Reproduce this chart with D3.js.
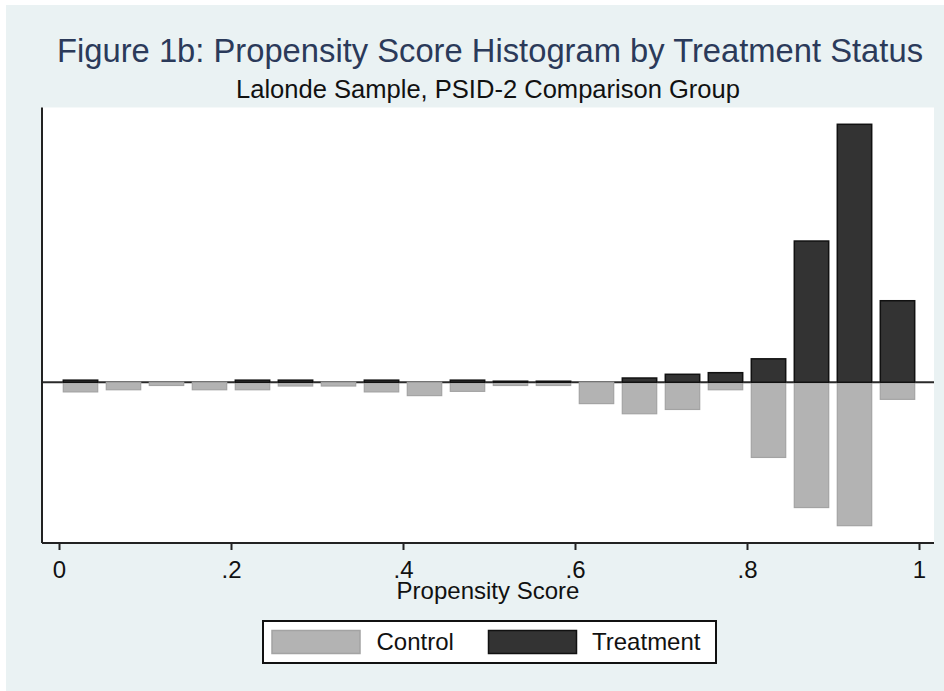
<!DOCTYPE html>
<html>
<head>
<meta charset="utf-8">
<script src="https://cdn.jsdelivr.net/npm/d3@7"></script>
<style>
  html, body { margin: 0; padding: 0; background: #eaf2f3; }
  svg { display: block; font-family: "Liberation Sans", Arial, sans-serif; }
</style>
</head>
<body>
<svg id="chart" width="944" height="691"></svg>
<script>
// ---- data (percent of group in each 0.05-wide propensity-score bin) ----
const binMids = [0.025, 0.075, 0.125, 0.175, 0.225, 0.275, 0.325, 0.375, 0.425, 0.475,
                 0.525, 0.575, 0.625, 0.675, 0.725, 0.775, 0.825, 0.875, 0.925, 0.975];
const treatment = [0.4, 0, 0, 0, 0.4, 0.4, 0, 0.4, 0, 0.4,
                   0.2, 0.2, 0, 0.8, 1.5, 1.8, 4.4, 26.5, 48.4, 15.3];
const control = [1.8, 1.4, 0.6, 1.4, 1.4, 0.7, 0.7, 1.8, 2.5, 1.7,
                 0.6, 0.6, 4.0, 5.9, 5.1, 1.4, 14.1, 23.5, 26.9, 3.2];
const xTicks = [0, 0.2, 0.4, 0.6, 0.8, 1];
const xTickLabels = ["0", ".2", ".4", ".6", ".8", "1"];
const seriesNames = ["Control", "Treatment"];
const titleText = "Figure 1b: Propensity Score Histogram by Treatment Status";
const subtitleText = "Lalonde Sample, PSID-2 Comparison Group";
const xTitle = "Propensity Score";
const binWidth = 0.04;

const svg = d3.select("#chart");
const W = 944, H = 691;
const plot = { left: 42, right: 934, top: 107.5, bottom: 543 };

svg.append("rect").attr("width", W).attr("height", H).attr("fill", "#eaf2f3");
// thin white margin seen on top/left edges
svg.append("rect").attr("x", 0).attr("y", 0).attr("width", W).attr("height", 5).attr("fill", "#ffffff");
svg.append("rect").attr("x", 0).attr("y", 0).attr("width", 6).attr("height", H).attr("fill", "#ffffff");

// plot region
svg.append("rect")
  .attr("x", plot.left).attr("y", plot.top)
  .attr("width", plot.right - plot.left).attr("height", plot.bottom - plot.top)
  .attr("fill", "#ffffff");

const x = d3.scaleLinear().domain([0, 1]).range([59, 919]);
const y = d3.scaleLinear().domain([-30.15, 51.55]).range([plot.bottom, plot.top]);

// zero line
svg.append("line")
  .attr("x1", plot.left).attr("x2", plot.right)
  .attr("y1", y(0)).attr("y2", y(0))
  .attr("stroke", "#2a2a2a").attr("stroke-width", 2);

// control bars (downward)
svg.append("g").selectAll("rect").data(binMids).join("rect")
  .attr("x", d => x(d - binWidth / 2))
  .attr("width", d => x(binWidth) - x(0))
  .attr("y", y(0))
  .attr("height", (d, i) => y(-control[i]) - y(0))
  .attr("fill", "#b3b3b3")
  .attr("stroke", "#a3a3a3")
  .attr("stroke-width", 1.2);

// treatment bars (upward)
svg.append("g").selectAll("rect").data(binMids.filter((d, i) => treatment[i] > 0)).join("rect")
  .attr("x", d => x(d - binWidth / 2))
  .attr("width", d => x(binWidth) - x(0))
  .attr("y", d => y(treatment[binMids.indexOf(d)]))
  .attr("height", d => y(0) - y(treatment[binMids.indexOf(d)]))
  .attr("fill", "#333333")
  .attr("stroke", "#111111")
  .attr("stroke-width", 1.5);

// y axis line
svg.append("line")
  .attr("x1", plot.left).attr("x2", plot.left)
  .attr("y1", plot.top).attr("y2", plot.bottom)
  .attr("stroke", "#222").attr("stroke-width", 2);

// x axis
const xAxis = d3.axisBottom(x)
  .tickValues(xTicks)
  .tickFormat((d, i) => xTickLabels[i])
  .tickSize(7).tickSizeOuter(0).tickPadding(11);
const gx = svg.append("g").attr("transform", `translate(0,${plot.bottom})`).call(xAxis);
gx.select(".domain").remove();
gx.selectAll(".tick line").attr("stroke", "#222").attr("stroke-width", 2);
gx.selectAll(".tick text")
  .attr("font-family", "'Liberation Sans', Arial, sans-serif")
  .attr("font-size", 24).attr("fill", "#111");
svg.append("line")
  .attr("x1", plot.left).attr("x2", plot.right)
  .attr("y1", plot.bottom).attr("y2", plot.bottom)
  .attr("stroke", "#222").attr("stroke-width", 2);

// axis title
svg.append("text").attr("x", 488).attr("y", 599)
  .attr("text-anchor", "middle").attr("font-size", 24).attr("fill", "#111")
  .text(xTitle);

// titles
svg.append("text").attr("x", 490).attr("y", 61.5)
  .attr("text-anchor", "middle").attr("font-size", 32.5).attr("fill", "#2b3a5a")
  .attr("textLength", 866).attr("lengthAdjust", "spacingAndGlyphs")
  .text(titleText);
svg.append("text").attr("x", 488).attr("y", 97.5)
  .attr("text-anchor", "middle").attr("font-size", 25.5).attr("fill", "#111")
  .attr("textLength", 504).attr("lengthAdjust", "spacingAndGlyphs")
  .text(subtitleText);

// legend
const lg = svg.append("g");
lg.append("rect").attr("x", 263).attr("y", 621).attr("width", 453).attr("height", 42)
  .attr("fill", "#fff").attr("stroke", "#111").attr("stroke-width", 2);
const legendItems = [
  { name: seriesNames[0], sx: 272, tx: 376.5, fill: "#b3b3b3", stroke: "#a3a3a3" },
  { name: seriesNames[1], sx: 488.5, tx: 592, fill: "#333333", stroke: "#111111" }
];
legendItems.forEach(it => {
  lg.append("rect").attr("x", it.sx).attr("y", 630.5).attr("width", 88).attr("height", 23)
    .attr("fill", it.fill).attr("stroke", it.stroke).attr("stroke-width", 1.5);
  lg.append("text").attr("x", it.tx).attr("y", 649.5)
    .attr("font-size", 24).attr("fill", "#111").text(it.name);
});
</script>
</body>
</html>
